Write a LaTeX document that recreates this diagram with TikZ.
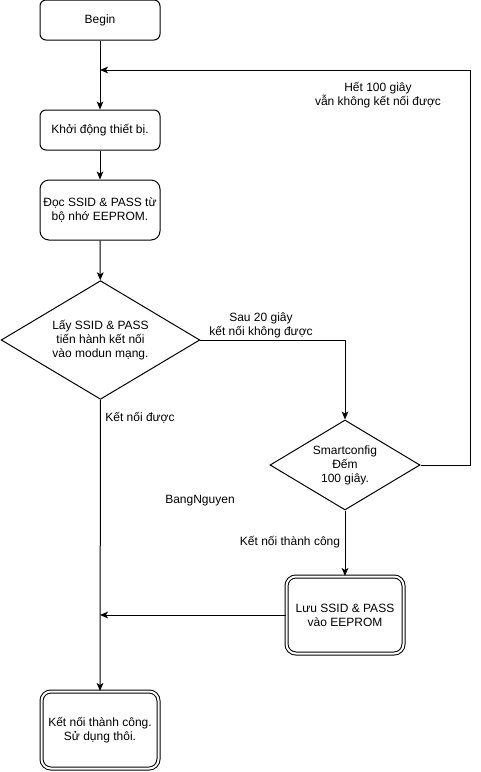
\documentclass[tikz,border=0pt]{standalone}
\usepackage{fontspec}
\setmainfont{Liberation Sans}
\usetikzlibrary{shapes.geometric,arrows.meta}
\begin{document}
\begin{tikzpicture}[x=0.75pt,y=-0.75pt,
 every node/.style={font=\fontsize{9pt}{10.5pt}\selectfont, align=center, inner sep=0pt},
 box/.style={draw, line width=0.75pt, rounded corners=4.5pt, minimum width=90pt},
 dbox/.style={draw, line width=0.75pt, double, double distance=1.5pt, rounded corners=7pt, minimum width=87.75pt, minimum height=57.75pt},
 dec/.style={draw, diamond, line width=0.75pt, aspect=1.667},
 conn/.style={line width=0.75pt, -{Stealth[length=6pt,width=5pt,inset=1.5pt]}}
]
\useasboundingbox (0,0) rectangle (480,772);
\node[box, minimum height=30pt] (begin) at (100,20) {Begin};
\node[box, minimum height=30pt] (start) at (100,130) {Khởi động thiết bị.};
\node[box, minimum height=45pt, rounded corners=6.75pt] (read) at (100,210) {Đọc SSID \& PASS từ\\bộ nhớ EEPROM.};
\node[dec, minimum width=149pt, minimum height=89pt] (check) at (100.5,340) {Lấy SSID \& PASS\\tiến hành kết nối\\vào modun mạng.};
\node[dec, minimum width=112.5pt, minimum height=67.5pt] (smart) at (345,465) {Smartconfig\\Đếm\\100 giây.};
\node[dbox] (save) at (345,615) {Lưu SSID \& PASS\\vào EEPROM};
\node[dbox] (done) at (100,730) {Kết nối thành công.\\Sử dụng thôi.};
\node (author) at (200,501) {BangNguyen};
\coordinate (j1) at (100,70);
\coordinate (c1) at (470,70);
\coordinate (j2) at (100,615);
\draw[conn] (begin) -- (start);
\draw[conn] (start) -- (read);
\draw[conn] (read) -- (check);
\draw[conn] (check.east) -| (smart.north);
\draw[conn] (smart.east) -| (c1) -- (j1);
\draw[conn] (check.south) -- (done.north);
\draw[conn] (smart.south) -- (save.north);
\draw[conn] (save.west) -- (j2);
\node (l1) at (261,325) {Sau 20 giây\\kết nối không được};
\node (l2) at (378,95) {Hết 100 giây\\vẫn không kết nối được};
\node (l3) at (140,418) {Kết nối được};
\node (l4) at (290,542) {Kết nối thành công};
\end{tikzpicture}
\end{document}
